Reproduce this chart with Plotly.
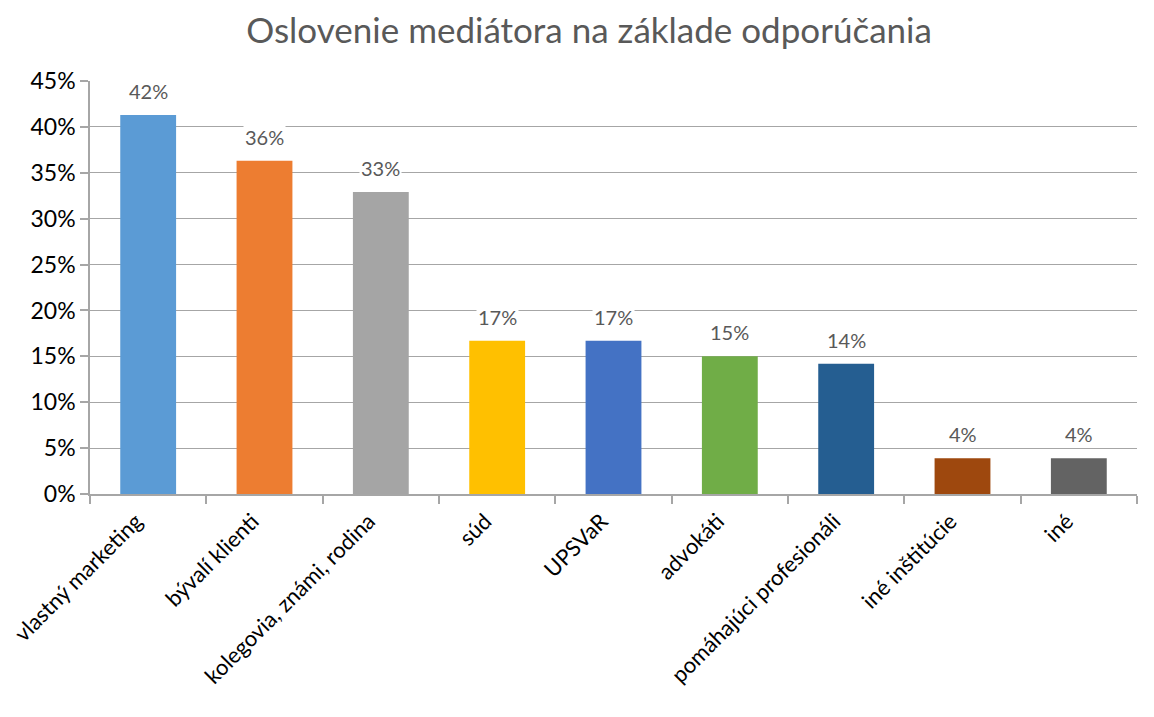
import plotly.graph_objects as go

categories = ["vlastný marketing", "bývalí klienti", "kolegovia, známi, rodina", "súd",
              "UPSVaR", "advokáti", "pomáhajúci profesionáli", "iné inštitúcie", "iné"]
values = [0.413, 0.363, 0.329, 0.167, 0.167, 0.150, 0.142, 0.039, 0.039]
value_labels = ["42%", "36%", "33%", "17%", "17%", "15%", "14%", "4%", "4%"]
colors = ["#5B9BD5", "#ED7D31", "#A5A5A5", "#FFC000", "#4472C4",
          "#70AD47", "#255E91", "#9E480E", "#636363"]
title = "Oslovenie mediátora na základe odporúčania"
y_ticks = [0, 0.05, 0.10, 0.15, 0.20, 0.25, 0.30, 0.35, 0.40, 0.45]

FONT = "Lato"

fig = go.Figure()
fig.add_trace(go.Bar(
    x=categories, y=values,
    marker=dict(color=colors, line=dict(width=0)),
    width=0.48,
    hoverinfo="skip",
))

for c, v, t in zip(categories, values, value_labels):
    fig.add_annotation(
        x=c, y=v, text=t, showarrow=False, yanchor="bottom", yshift=10,
        bgcolor="white", font=dict(family=FONT, size=20, color="#595959"),
        borderpad=1,
    )

fig.update_layout(
    width=1154, height=717,
    paper_bgcolor="white", plot_bgcolor="white",
    margin=dict(l=82, r=25, t=73, b=231),
    title=dict(text=title, x=0.5035, xanchor="center", y=0.968, yanchor="middle",
               font=dict(family=FONT, size=35, color="#595959")),
    showlegend=False,
    bargap=0.52,
)
fig.update_xaxes(
    automargin=False,
    tickangle=-45, tickfont=dict(family=FONT, size=22, color="black"),
    ticklabelshift=-12, ticklabelstandoff=4,
    showline=True, linecolor="#A6A6A6", linewidth=1.5,
    ticks="outside", tickson="boundaries", ticklen=8, tickcolor="#A6A6A6", tickwidth=1.5,
    showgrid=False,
)
fig.update_yaxes(
    automargin=False,
    range=[0, 0.45], tickvals=y_ticks, tickformat=".0%",
    tickfont=dict(family=FONT, size=23, color="black"),
    showline=True, linecolor="#A6A6A6", linewidth=1.5,
    ticks="outside", ticklen=8, tickcolor="#A6A6A6", tickwidth=1.5,
    showgrid=True, gridcolor="#A6A6A6", gridwidth=1,
    zeroline=False,
)

fig.write_html("out.html")
